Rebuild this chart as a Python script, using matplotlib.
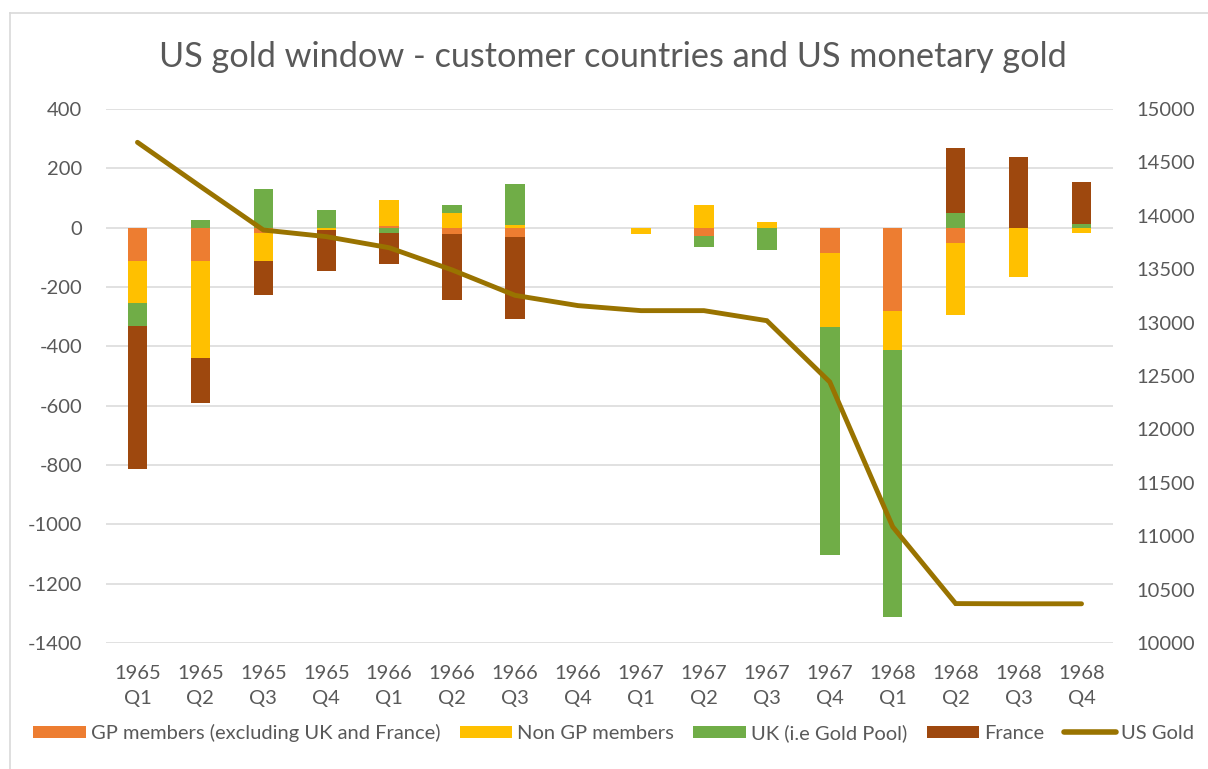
import matplotlib
matplotlib.use("Agg")
import matplotlib.pyplot as plt
from matplotlib.lines import Line2D
from matplotlib.patches import Patch
import numpy as np

plt.rcParams['font.family'] = ['Lato', 'DejaVu Sans']
plt.rcParams['axes.unicode_minus'] = False

quarters = ["1965\nQ1", "1965\nQ2", "1965\nQ3", "1965\nQ4",
            "1966\nQ1", "1966\nQ2", "1966\nQ3", "1966\nQ4",
            "1967\nQ1", "1967\nQ2", "1967\nQ3", "1967\nQ4",
            "1968\nQ1", "1968\nQ2", "1968\nQ3", "1968\nQ4"]
gp_members = [-112, -112, -19, 0, 4, -20, -30, 0, 0, -27, 0, -85, -282, -50, 0, 0]
non_gp = [-141, -329, -92, -8, 89, 48, 8, 0, -20, 78, 20, -250, -130, -245, -166, -17]
uk = [-77, 27, 130, 61, -17, 27, 139, 0, 0, -37, -76, -770, -900, 48, 0, 13]
france = [-482, -149, -117, -139, -105, -224, -279, 0, 0, 0, 0, 0, 0, 221, 239, 140]
us_gold = [14688, 14275, 13867, 13805, 13701, 13493, 13255, 13159,
           13112, 13112, 13018, 12444, 11088, 10369, 10367, 10367]

series_names = ["GP members (excluding UK and France)", "Non GP members",
                "UK (i.e Gold Pool)", "France"]
colors = ["#ED7D31", "#FFC000", "#70AD47", "#9E480E"]
line_color = "#997300"
text_color = "#595959"

fig = plt.figure(figsize=(12.08, 7.69), dpi=100)
ax = fig.add_axes([106/1208, 126/769, (1113-106)/1208, (643-109)/769])
ax2 = ax.twinx()

x = np.arange(len(quarters))
pos_bottom = np.zeros(len(x))
neg_bottom = np.zeros(len(x))
for vals, c, name in zip([gp_members, non_gp, uk, france], colors, series_names):
    v = np.array(vals, dtype=float)
    pos = np.where(v > 0, v, 0)
    neg = np.where(v < 0, v, 0)
    ax.bar(x, pos, bottom=pos_bottom, width=0.31, color=c, zorder=3, linewidth=0)
    ax.bar(x, neg, bottom=neg_bottom, width=0.31, color=c, zorder=3, linewidth=0)
    pos_bottom += pos
    neg_bottom += neg

ax2.plot(x, us_gold, color=line_color, linewidth=3.5, solid_capstyle='round',
         solid_joinstyle='miter', zorder=4)

ax.set_xlim(-0.5, len(x) - 0.5)
ax.set_ylim(-1400, 400)
ax.set_yticks(np.arange(-1400, 401, 200))
ax2.set_ylim(10000, 15000)
ax2.set_yticks(np.arange(10000, 15001, 500))

ax.grid(axis='y', color='#D9D9D9', linewidth=1.1, zorder=0)
ax.set_axisbelow(True)
for a in (ax, ax2):
    for s in a.spines.values():
        s.set_visible(False)
ax.set_xticks(x)
ax.set_xticklabels(quarters, linespacing=1.55)
ax.tick_params(axis='x', length=0, pad=16, labelsize=14.5, labelcolor=text_color)
ax.tick_params(axis='y', length=0, pad=17, labelsize=14.5, labelcolor=text_color)
ax2.tick_params(axis='y', length=0, pad=17, labelsize=14.5, labelcolor=text_color)

fig.text(0.507, 1 - 57/769, "US gold window - customer countries and US monetary gold",
         ha='center', va='center', fontsize=24.7, color=text_color)

handles = [Patch(facecolor=c, edgecolor='none') for c in colors]
handles.append(Line2D([0], [0], color=line_color, linewidth=4, solid_capstyle='round'))
labels = series_names + ["US Gold"]
leg = fig.legend(handles, labels, loc='center', bbox_to_anchor=(0.508, 1 - 733/769),
                 ncol=5, frameon=False, fontsize=14.5, handlelength=2.6,
                 handleheight=0.6, handletextpad=0.25, columnspacing=0.97)
for t in leg.get_texts():
    t.set_color(text_color)

# chart-area border (Excel style)
fig.add_artist(Line2D([10/1208, 10/1208], [0, 1 - 13/769], transform=fig.transFigure,
                      color='#D9D9D9', linewidth=1.2))
fig.add_artist(Line2D([10/1208, 1], [1 - 13/769, 1 - 13/769], transform=fig.transFigure,
                      color='#D9D9D9', linewidth=1.2))

fig.savefig("out.png", dpi=100, facecolor='white')
